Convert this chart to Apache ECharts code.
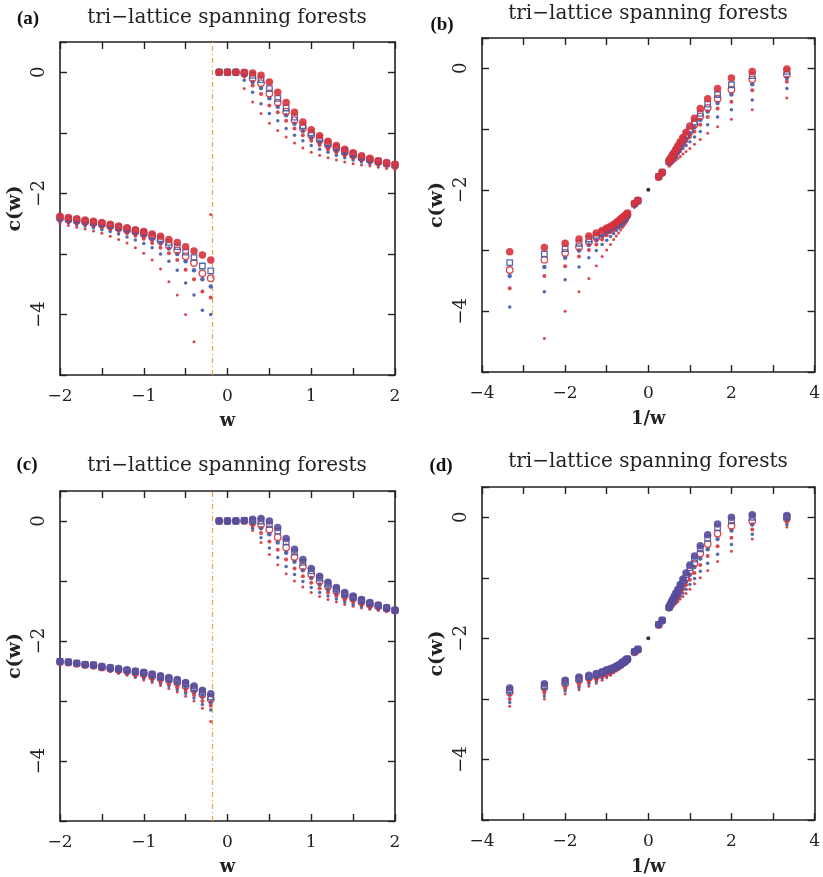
<!DOCTYPE html>
<html><head><meta charset="utf-8">
<script src="https://cdn.jsdelivr.net/npm/echarts/dist/echarts.min.js"></script>
<style>html,body{margin:0;padding:0;background:#fff}#c{width:823px;height:877px}</style>
</head><body><div id="c"></div>
<script>
// w values at which c(w) was measured
const W = [-4,-3,-2,-1.9,-1.8,-1.7,-1.6,-1.5,-1.4,-1.3,-1.2,-1.1,-1,-0.9,-0.8,-0.7,-0.6,-0.5,-0.4,-0.3,-0.2,
  -0.1,0,0.1,0.2,0.3,0.4,0.5,0.6,0.7,0.8,0.9,1,1.1,1.2,1.3,1.4,1.5,1.6,1.7,1.8,1.9,2,3,4];
const wCritical = -0.1753;       // dashed vertical line in (a),(c)
const cAtInfinity = -2;           // black point at 1/w = 0

// panels (a),(b): series S1 (smallest) ... S7 (largest)
const A_S1 = [-2.23,-2.29,-2.50,-2.53,-2.56,-2.59,-2.62,-2.66,-2.71,-2.76,-2.82,-2.90,-2.99,-3.10,-3.25,-3.46,-3.68,-4.00,-4.45,null,-2.35,
  -0.03,0,-0.02,-0.27,-0.49,-0.68,-0.84,-0.96,-1.07,-1.17,-1.25,-1.32,-1.37,-1.41,-1.45,-1.48,-1.51,-1.53,-1.55,-1.57,-1.59,-1.61,-1.76,-1.82];
const A_S2 = [-2.21,-2.27,-2.47,-2.49,-2.52,-2.54,-2.57,-2.60,-2.63,-2.67,-2.72,-2.77,-2.83,-2.90,-3.00,-3.12,-3.27,-3.48,-3.68,-3.93,-4.00,
  0,0,-0.01,-0.13,-0.33,-0.52,-0.68,-0.80,-0.93,-1.04,-1.13,-1.21,-1.27,-1.32,-1.37,-1.41,-1.45,-1.48,-1.51,-1.53,-1.55,-1.58,-1.74,-1.81];
const A_S3 = [-2.20,-2.25,-2.45,-2.47,-2.49,-2.51,-2.53,-2.56,-2.59,-2.62,-2.66,-2.70,-2.75,-2.82,-2.90,-2.99,-3.10,-3.26,-3.42,-3.62,-3.72,
  0,0,0,-0.07,-0.22,-0.36,-0.55,-0.66,-0.80,-0.93,-1.04,-1.13,-1.20,-1.27,-1.32,-1.37,-1.41,-1.45,-1.48,-1.51,-1.53,-1.56,-1.73,-1.80];
const A_S4 = [-2.19,-2.24,-2.43,-2.45,-2.47,-2.49,-2.51,-2.53,-2.56,-2.59,-2.62,-2.66,-2.70,-2.76,-2.83,-2.91,-3.00,-3.12,-3.27,-3.42,-3.54,
  0,0,0,-0.04,-0.16,-0.26,-0.43,-0.57,-0.71,-0.85,-0.97,-1.08,-1.16,-1.23,-1.29,-1.34,-1.39,-1.43,-1.46,-1.49,-1.52,-1.55,-1.72,-1.79];
const A_S5 = [-2.18,-2.23,-2.41,-2.43,-2.45,-2.47,-2.49,-2.51,-2.54,-2.57,-2.60,-2.63,-2.67,-2.72,-2.78,-2.86,-2.94,-3.04,-3.15,-3.32,-3.40,
  0,0,0,-0.02,-0.10,-0.18,-0.35,-0.50,-0.65,-0.79,-0.92,-1.04,-1.12,-1.20,-1.26,-1.32,-1.37,-1.41,-1.45,-1.48,-1.51,-1.54,-1.72,-1.79];
const A_S6 = [-2.18,-2.23,-2.40,-2.42,-2.44,-2.46,-2.48,-2.50,-2.53,-2.56,-2.59,-2.62,-2.65,-2.70,-2.75,-2.81,-2.88,-2.97,-3.06,-3.20,-3.28,
  0,0,0,-0.01,-0.05,-0.12,-0.27,-0.43,-0.59,-0.74,-0.88,-1.00,-1.09,-1.17,-1.24,-1.30,-1.35,-1.40,-1.44,-1.47,-1.50,-1.53,-1.71,-1.78];
const A_S7 = [-2.17,-2.22,-2.38,-2.40,-2.42,-2.44,-2.46,-2.48,-2.51,-2.54,-2.57,-2.60,-2.63,-2.67,-2.71,-2.76,-2.81,-2.88,-2.95,-3.02,-3.10,
  0,0,0,0,-0.01,-0.05,-0.16,-0.33,-0.50,-0.66,-0.82,-0.95,-1.05,-1.14,-1.21,-1.27,-1.33,-1.38,-1.42,-1.46,-1.49,-1.52,-1.71,-1.78];

// panels (c),(d)
const C_S1 = [-2.21,-2.26,-2.37,-2.39,-2.41,-2.43,-2.45,-2.48,-2.51,-2.54,-2.57,-2.61,-2.65,-2.69,-2.74,-2.79,-2.85,-2.92,-3.00,-3.12,-3.34,
  0,0,0,-0.02,-0.16,-0.36,-0.56,-0.73,-0.88,-1.00,-1.10,-1.19,-1.26,-1.31,-1.35,-1.39,-1.42,-1.45,-1.47,-1.49,-1.51,-1.53,-1.73,-1.79];
const C_S2 = [-2.20,-2.25,-2.36,-2.38,-2.40,-2.42,-2.44,-2.47,-2.50,-2.52,-2.55,-2.59,-2.62,-2.66,-2.71,-2.75,-2.81,-2.87,-2.95,-3.06,-3.15,
  0,0,0,-0.01,-0.12,-0.28,-0.45,-0.61,-0.76,-0.89,-1.01,-1.11,-1.19,-1.25,-1.30,-1.35,-1.39,-1.42,-1.45,-1.47,-1.50,-1.52,-1.72,-1.79];
const C_S3 = [-2.20,-2.24,-2.36,-2.37,-2.39,-2.41,-2.43,-2.46,-2.48,-2.51,-2.53,-2.57,-2.60,-2.63,-2.68,-2.72,-2.77,-2.83,-2.90,-3.00,-3.08,
  0,0,0,-0.01,-0.08,-0.20,-0.34,-0.48,-0.64,-0.79,-0.92,-1.03,-1.12,-1.19,-1.25,-1.31,-1.35,-1.39,-1.43,-1.45,-1.48,-1.51,-1.72,-1.78];
const C_S4 = [-2.19,-2.23,-2.35,-2.37,-2.39,-2.41,-2.42,-2.44,-2.47,-2.49,-2.52,-2.54,-2.57,-2.61,-2.64,-2.68,-2.72,-2.78,-2.85,-2.93,-3.02,
  0,0,0,0,-0.05,-0.12,-0.22,-0.36,-0.53,-0.68,-0.82,-0.95,-1.06,-1.14,-1.21,-1.27,-1.32,-1.37,-1.40,-1.44,-1.47,-1.50,-1.71,-1.78];
const C_S5 = [-2.19,-2.23,-2.35,-2.36,-2.38,-2.40,-2.41,-2.44,-2.46,-2.48,-2.50,-2.53,-2.55,-2.59,-2.62,-2.65,-2.69,-2.75,-2.81,-2.89,-2.97,
  0,0,0,0,-0.02,-0.06,-0.14,-0.27,-0.44,-0.60,-0.76,-0.89,-1.00,-1.09,-1.17,-1.24,-1.29,-1.35,-1.39,-1.42,-1.46,-1.49,-1.71,-1.78];
const C_S6 = [-2.18,-2.22,-2.34,-2.35,-2.37,-2.39,-2.40,-2.43,-2.45,-2.47,-2.49,-2.51,-2.53,-2.56,-2.60,-2.63,-2.66,-2.71,-2.78,-2.85,-2.93,
  0,0,0,0.01,0.01,0,-0.06,-0.17,-0.35,-0.52,-0.69,-0.83,-0.95,-1.05,-1.13,-1.21,-1.27,-1.32,-1.37,-1.41,-1.45,-1.49,-1.70,-1.77];
const C_S7 = [-2.18,-2.22,-2.34,-2.35,-2.37,-2.39,-2.40,-2.42,-2.44,-2.46,-2.48,-2.50,-2.52,-2.55,-2.58,-2.61,-2.64,-2.69,-2.75,-2.82,-2.88,
  0,0,0,0.01,0.03,0.04,0,-0.11,-0.29,-0.47,-0.64,-0.79,-0.92,-1.02,-1.11,-1.19,-1.25,-1.31,-1.36,-1.40,-1.44,-1.48,-1.70,-1.77];

const titleText = 'tri\u2212lattice spanning forests';
const panelLabels = ['(a)','(b)','(c)','(d)'];
const xNames = ['w','1/w','w','1/w'];
const yName = 'c(w)';

const RED = '#d7323c', BLUE = '#3c5aa6', PURPLE = '#584c9c';
const FONT = 'DejaVu Serif';

const grids = [
  {left:60, top:42, width:335, height:333},
  {left:482, top:38, width:334, height:334},
  {left:60, top:491, width:335, height:334},
  {left:482, top:487, width:334, height:334}
];

const fmtNum = v => (v < 0 ? '\u2212' : '') + Math.abs(v);
const isInt = v => Math.abs(v - Math.round(v)) < 1e-9;

const xAxes = [], yAxes = [];
grids.forEach((g, p) => {
  const inv = (p % 2 === 1);
  const xmin = inv ? -4 : -2, xmax = inv ? 4 : 2, xint = inv ? 1 : 0.5;
  const lineStyle = {color:'#222', width:1.6};
  const tick = {show:true, inside:true, length:7, lineStyle:{color:'#222', width:1.4}};
  const base = {gridIndex:p, type:'value', min:xmin, max:xmax, interval:xint, splitLine:{show:false},
    axisLine:{show:true, onZero:false, lineStyle}, axisTick:tick};
  xAxes.push(Object.assign({}, base, {position:'bottom',
    name: xNames[p], nameLocation:'middle', nameGap: inv ? 38 : 37,
    nameTextStyle:{fontFamily:FONT, fontSize:18, fontWeight:'bold', color:'#222'},
    axisLabel:{show:true, margin:13, fontFamily:FONT, fontSize:17, color:'#222',
      formatter: v => { if (!isInt(v)) return ''; const r = Math.round(v); if (inv && r % 2 !== 0) return ''; return fmtNum(r); }}
  }));
  xAxes.push(Object.assign({}, base, {position:'top', axisLabel:{show:false}}));
  const ybase = {gridIndex:p, type:'value', min:-5, max:0.5, interval:1, splitLine:{show:false},
    axisLine:{show:true, onZero:false, lineStyle}, axisTick:tick};
  yAxes.push(Object.assign({}, ybase, {position:'left',
    name: yName, nameLocation:'middle', nameGap:35, nameRotate:90,
    nameTextStyle:{fontFamily:FONT, fontSize:19, fontWeight:'bold', color:'#222'},
    axisLabel:{show:true, rotate:90, margin:12, fontFamily:FONT, fontSize:18, color:'#222',
      formatter: v => { if (!isInt(v)) return ''; const r = Math.round(v); if (r % 2 !== 0 || r > 0) return ''; return fmtNum(r); }}
  }));
  yAxes.push(Object.assign({}, ybase, {position:'right', axisLabel:{show:false}}));
});

const styleDefs = [
  {sym:'circle', size:3,   color:RED,  open:false},
  {sym:'circle', size:3.5, color:BLUE, open:false},
  {sym:'circle', size:4,   color:RED,  open:false},
  {sym:'circle', size:4.5, color:BLUE, open:false},
  {sym:'circle', size:6.5, color:RED,  open:true},
  {sym:'rect',   size:5.5, color:BLUE, open:true},
  {sym:'circle', size:7.5, color:RED,  open:false}
];
const setsA = [A_S1,A_S2,A_S3,A_S4,A_S5,A_S6,A_S7];
const setsC = [C_S1,C_S2,C_S3,C_S4,C_S5,C_S6,C_S7];

function pts(vals, inverse) {
  const out = [];
  W.forEach((w, i) => {
    const c = vals[i];
    if (c === null || c === undefined) return;
    if (inverse) { if (w === 0) return; out.push([1 / w, c]); }
    else out.push([w, c]);
  });
  return out;
}

const series = [];
[0,1,2,3].forEach(p => {
  const inv = (p % 2 === 1);
  const sets = p < 2 ? setsA : setsC;
  sets.forEach((vals, k) => {
    const st = styleDefs[k];
    let color = st.color;
    if (k === 6 && p >= 2) color = PURPLE;
    series.push({
      type:'scatter', xAxisIndex:2*p, yAxisIndex:2*p, clip:true, silent:true,
      symbol: st.sym, symbolSize: st.size, z: 2 + k,
      itemStyle: st.open ? {color:'rgba(255,255,255,0)', borderColor:color, borderWidth:1.3, opacity:0.9}
                         : {color:color, opacity:0.9},
      data: pts(vals, inv)
    });
  });
  if (inv) {
    series.push({type:'scatter', xAxisIndex:2*p, yAxisIndex:2*p, symbolSize:4, silent:true,
      itemStyle:{color:'#000'}, data:[[0, cAtInfinity]], z:10});
  } else {
    series.push({type:'line', xAxisIndex:2*p, yAxisIndex:2*p, data:[], silent:true,
      markLine:{symbol:['none','none'], silent:true, label:{show:false},
        lineStyle:{color:'#eba04e', width:1.2, type:[5,3,1,3]},
        data:[{xAxis: wCritical}]}});
  }
});

const titlePos = [[227,18],[648,14],[227,466],[648,462]];
const labelPos = [[28,19],[442,25],[27,465],[441,466]];
const graphic = [];
titlePos.forEach((tp, p) => {
  graphic.push({type:'text', x:tp[0], y:tp[1], silent:true,
    style:{text:titleText, font:'20px "DejaVu Serif"', fill:'#222', align:'center', verticalAlign:'middle'}});
  graphic.push({type:'text', x:labelPos[p][0], y:labelPos[p][1], silent:true,
    style:{text:panelLabels[p], font:'bold 19px "Liberation Serif"', fill:'#111', align:'center', verticalAlign:'middle'}});
});

const chart = echarts.init(document.getElementById('c'), null, {renderer:'canvas'});
chart.setOption({
  animation:false,
  backgroundColor:'#fff',
  grid: grids,
  xAxis: xAxes,
  yAxis: yAxes,
  series: series,
  graphic: graphic
});
</script></body></html>
